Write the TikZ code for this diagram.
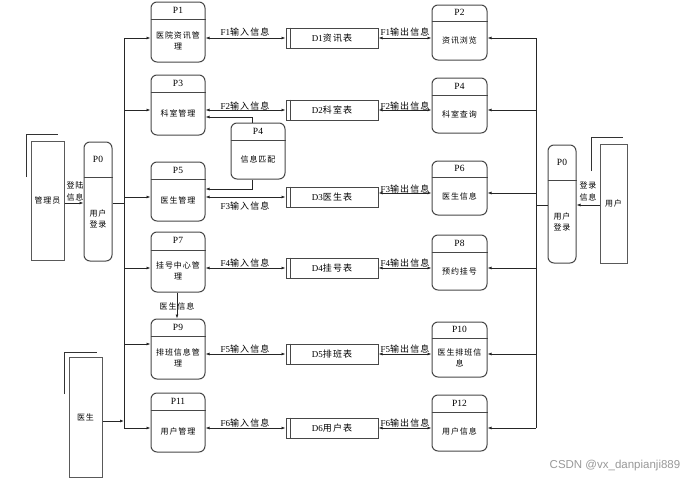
\documentclass[tikz,border=0pt]{standalone}
\usepackage{fontspec}
\setmainfont{Liberation Serif}
\newfontfamily\cjk[LetterSpace=12]{Noto Sans CJK SC}
\newfontfamily\wmfont{Liberation Sans}
\usetikzlibrary{arrows.meta,calc}

\newcommand\mkproc[8]{%
  \path node[proc, minimum width={(#4-#2)*1pt}, minimum height={(#5-#3)*1pt}] (#1) at ({(#2+#4)/2},{(#3+#5)/2}) {};
  \draw[procline] (#1.west |- 0,#6) -- (#1.east |- 0,#6);
  \node[ptitle] (#1t) at ($(#1.north)!0.5!(#1.north |- 0,#6)$) {#7};
  \node[ptext] (#1b) at ($(#1.south)!0.5!(#1.south |- 0,#6)$) {#8};
}
\newcommand\mkstore[3]{%
  \node[store] (#1) at (332,#2) {#3};
  \draw[procline] ([xshift=5pt]#1.north west) -- ([xshift=5pt]#1.south west);
}

\begin{document}
\begin{tikzpicture}[x=1pt,y=-1pt,
  proc/.style={draw=black!72, line width=1pt, rounded corners=6pt, inner sep=0pt},
  procline/.style={draw=black!72, line width=1pt},
  store/.style={draw=black!72, line width=1pt, inner sep=0pt, minimum width=92pt, minimum height=20pt, font=\fontsize{9}{10}\selectfont},
  ent/.style={draw=black!65, line width=1pt, inner sep=0pt, font=\cjk\fontsize{8}{10}\selectfont},
  shadowl/.style={draw=black!80, line width=0.8pt},
  flow/.style={draw=black!85, line width=0.8pt},
  arr/.style={flow, -{Latex[length=4pt,width=3pt]}},
  biarr/.style={flow, {Latex[length=4pt,width=3pt]}-{Latex[length=4pt,width=3pt]}},
  lbl/.style={font=\fontsize{9}{10}\selectfont, inner sep=0pt},
  clbl/.style={font=\cjk\fontsize{8}{12}\selectfont, inner sep=0pt, align=center},
  ptitle/.style={font=\fontsize{9.5}{10}\selectfont, inner sep=0pt},
  ptext/.style={font=\cjk\fontsize{8}{11}\selectfont, align=center, inner sep=0pt},
]
\fill[white] (0,0) rectangle (694,479);
\useasboundingbox (0,0) rectangle (694,479);

% processes, left column
\mkproc{P1}{151}{2}{205}{62}{19}{P1}{医院资讯管\\理}
\mkproc{P3}{151}{75}{205}{135}{92}{P3}{科室管理}
\mkproc{P5}{151}{162}{205}{221}{179}{P5}{医生管理}
\mkproc{P7}{151}{232}{205}{292}{250}{P7}{挂号中心管\\理}
\mkproc{P9}{151}{319}{205}{379}{336}{P9}{排班信息管\\理}
\mkproc{P11}{151}{393}{205}{452}{410}{P11}{用户管理}
% processes, right column
\mkproc{P2}{432}{5}{487}{60}{21}{P2}{资讯浏览}
\mkproc{P4}{432}{78}{487}{133}{95}{P4}{科室查询}
\mkproc{P6}{432}{161}{487}{215}{177}{P6}{医生信息}
\mkproc{P8}{432}{235}{487}{290}{252}{P8}{预约挂号}
\mkproc{P10}{432}{322}{487}{377}{338}{P10}{医生排班信\\息}
\mkproc{P12}{432}{395}{487}{451}{412}{P12}{用户信息}
% middle process
\mkproc{M}{231}{123}{285}{179}{140}{P4}{信息匹配}
% login processes
\mkproc{P0L}{84}{142}{112}{261}{177}{P0}{用户\\登录}
\mkproc{P0R}{548}{145}{576}{263}{180}{P0}{用户\\登录}

% data stores
\mkstore{D1}{38}{D1{\cjk 资讯表}}
\mkstore{D2}{110}{D2{\cjk 科室表}}
\mkstore{D3}{197}{D3{\cjk 医生表}}
\mkstore{D4}{268}{D4{\cjk 挂号表}}
\mkstore{D5}{354}{D5{\cjk 排班表}}
\mkstore{D6}{428}{D6{\cjk 用户表}}

% external entities
\node[ent, minimum width=33pt, minimum height=119pt] (A) at (47.5,200.5) {管理员};
\draw[shadowl] (26,177) -- (26,134) -- (58,134);
\node[ent, minimum width=27pt, minimum height=119pt] (U) at (613.5,203.5) {用户};
\draw[shadowl] (591,171) -- (591,137) -- (623,137);
\node[ent, minimum width=33pt, minimum height=120pt] (Dr) at (85.5,417) {医生};
\draw[shadowl] (64,394) -- (64,352) -- (97,352);

% buses
\coordinate (LBa) at (124,38);
\coordinate (LBb) at (124,428);
\coordinate (LJ) at (124,203);
\coordinate (LB9) at (124,344);
\coordinate (LBd) at (124,421);
\coordinate (RBa) at (536,38);
\coordinate (RBb) at (536,428);
\coordinate (RJ) at (536,205);
\coordinate (RB6) at (536,193);

\draw[flow] (LBa) -- (LBb);
\draw[flow] (RBa) -- (RBb);

% left bus arrows
\draw[arr] (LBa) -- (P1.west |- LBa);
\draw[arr] (LBa |- D2.west) -- (P3.west |- D2.west);
\draw[arr] (LBa |- D3.west) -- (P5.west |- D3.west);
\draw[arr] (LBa |- D4.west) -- (P7.west |- D4.west);
\draw[arr] (LB9) -- (P9.west |- LB9);
\draw[arr] (LBb) -- (P11.west |- LBb);

% right bus arrows
\draw[arr] (RBa) -- (P2.east |- RBa);
\draw[arr] (RBa |- D2.east) -- (P4.east |- D2.east);
\draw[arr] (RB6) -- (P6.east |- RB6);
\draw[arr] (RBa |- D4.east) -- (P8.east |- D4.east);
\draw[arr] (RBa |- D5.east) -- (P10.east |- D5.east);
\draw[arr] (RBb) -- (P12.east |- RBb);

% login connections
\draw[arr] (A.east |- LJ) -- (P0L.west |- LJ);
\draw[flow] (P0L.east |- LJ) -- (LJ);
\node[clbl] (la) at (75,191) {登陆\\信息};
\draw[arr] (U.west |- RJ) -- (P0R.east |- RJ);
\draw[flow] (P0R.west |- RJ) -- (RJ);
\node[clbl] (lu) at (588,191) {登录\\信息};
\draw[arr] (Dr.east |- LBd) -- (LBd);

% data flows
\draw[biarr] (P1.east |- D1.west) -- (D1.west);
\draw[biarr] (D1.east) -- (P2.west |- D1.east);
\draw[biarr] (P3.east |- D2.west) -- (D2.west);
\draw[biarr] (D2.east) -- (P4.west |- D2.east);
\draw[biarr] (P5.east |- D3.west) -- (D3.west);
\draw[biarr] ([yshift=4pt]D3.east) -- ([yshift=4pt]D3.east -| P6.west);
\draw[biarr] (P7.east |- D4.west) -- (D4.west);
\draw[biarr] (D4.east) -- (P8.west |- D4.east);
\draw[biarr] (P9.east |- D5.west) -- (D5.west);
\draw[biarr] (D5.east) -- (P10.west |- D5.east);
\draw[biarr] (P11.east |- D6.west) -- (D6.west);
\draw[biarr] (D6.east) -- (P12.west |- D6.east);

\node[lbl] (f1i) at (245,32) {F1{\cjk 输入信息}};
\node[lbl] (f1o) at (405,32) {F1{\cjk 输出信息}};
\node[lbl] (f2i) at (245,106) {F2{\cjk 输入信息}};
\node[lbl] (f2o) at (405,106) {F2{\cjk 输出信息}};
\node[lbl] (f3i) at (245,206) {F3{\cjk 输入信息}};
\node[lbl] (f3o) at (405,189) {F3{\cjk 输出信息}};
\node[lbl] (f4i) at (245,263) {F4{\cjk 输入信息}};
\node[lbl] (f4o) at (405,263) {F4{\cjk 输出信息}};
\node[lbl] (f5i) at (245,349) {F5{\cjk 输入信息}};
\node[lbl] (f5o) at (405,349) {F5{\cjk 输出信息}};
\node[lbl] (f6i) at (245,423) {F6{\cjk 输入信息}};
\node[lbl] (f6o) at (405,423) {F6{\cjk 输出信息}};

% matching process connections
\draw[arr] ([xshift=-6pt]M.north) |- ([yshift=-12pt]P3.east);
\draw[arr] ([xshift=-6pt]M.south) |- ([yshift=2.5pt]P5.east);

% P7 -> P9
\draw[arr] ([xshift=-1pt]P7.south) -- ([xshift=-1pt]P9.north);
\node[clbl] (ldi) at (177,306) {医生信息};

% watermark
\node[font=\wmfont\fontsize{11.5}{13}\selectfont, text=black!40, inner sep=0pt] (wm) at (615,466) {CSDN @vx\_danpianji889};
\end{tikzpicture}
\end{document}
